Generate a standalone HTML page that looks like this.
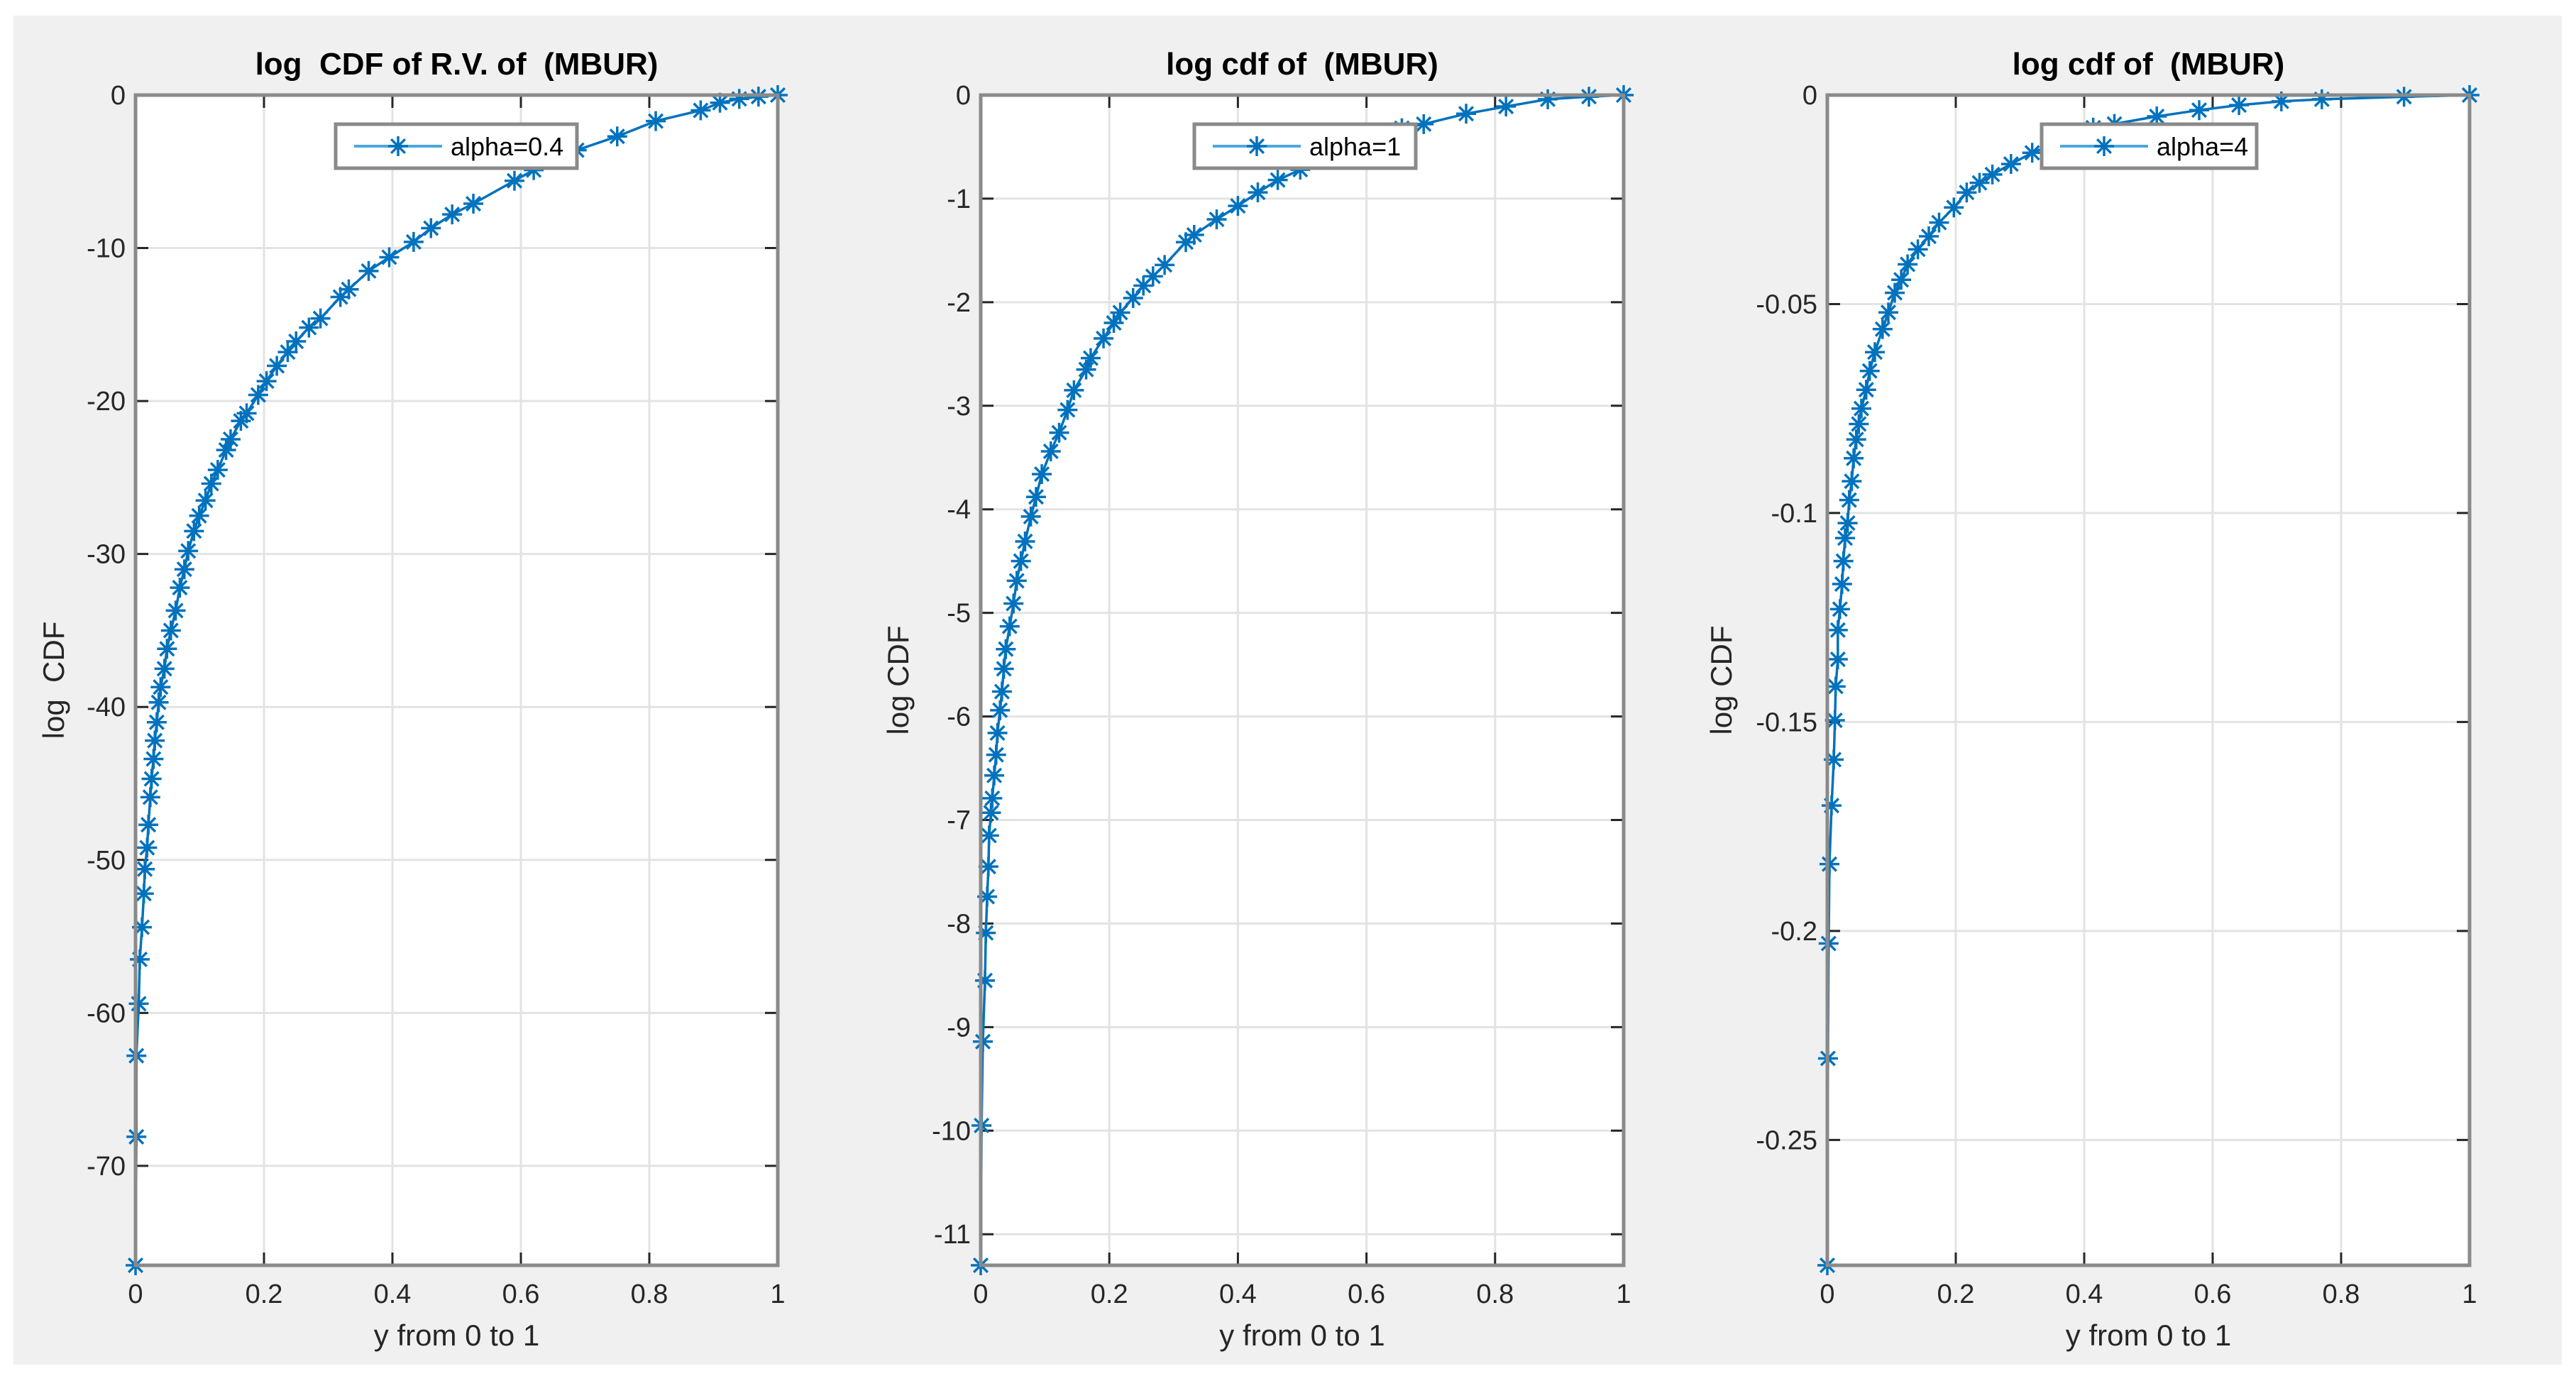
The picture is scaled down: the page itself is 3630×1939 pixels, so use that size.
<!DOCTYPE html>
<html><head><meta charset="utf-8"><title>log CDF of MBUR</title>
<style>
html,body{margin:0;padding:0;background:#fff;}
svg{display:block;font-family:"Liberation Sans",Arial,sans-serif;}
svg text{white-space:pre;}
</style></head>
<body>
<svg id="fig" width="3630" height="1939" viewBox="0 0 3630 1939" xmlns="http://www.w3.org/2000/svg">
<rect x="19" y="22" width="3591" height="1901" fill="#f0f0f0"/>
</svg>
<script>
// ---- data ----
const p1X=[1,0.97,0.94,0.91,0.88,0.81,0.75,0.687,0.62,0.59,0.526,0.493,0.46,0.433,0.395,0.363,0.332,0.319,0.288,0.27,0.25,0.237,0.22,0.204,0.191,0.173,0.164,0.148,0.141,0.128,0.118,0.109,0.099,0.091,0.082,0.076,0.069,0.0625,0.055,0.049,0.045,0.039,0.036,0.033,0.03,0.028,0.025,0.023,0.02,0.018,0.0145,0.013,0.01,0.0066,0.005,0.0013,0.0013,0];
const p1Y=[0,-0.1,-0.25,-0.5,-1.0,-1.7,-2.7,-3.6,-4.9,-5.6,-7.1,-7.8,-8.7,-9.6,-10.6,-11.5,-12.7,-13.2,-14.6,-15.2,-16.1,-16.8,-17.7,-18.7,-19.6,-20.8,-21.3,-22.5,-23.2,-24.5,-25.4,-26.5,-27.5,-28.5,-29.8,-31.0,-32.2,-33.7,-35.0,-36.2,-37.5,-38.7,-39.7,-41.0,-42.2,-43.4,-44.7,-45.9,-47.7,-49.2,-50.6,-52.2,-54.4,-56.5,-59.4,-62.8,-68.1,-76.5];
const p2X=[1,0.946,0.882,0.817,0.755,0.689,0.655,0.497,0.462,0.431,0.4,0.367,0.332,0.319,0.286,0.268,0.253,0.237,0.217,0.207,0.191,0.171,0.164,0.145,0.135,0.122,0.109,0.095,0.086,0.078,0.069,0.0625,0.056,0.051,0.045,0.039,0.036,0.033,0.03,0.026,0.024,0.021,0.018,0.016,0.013,0.012,0.01,0.008,0.0066,0.0033,0.0013,0];
const p2Y=[0,-0.015,-0.04,-0.11,-0.18,-0.28,-0.32,-0.72,-0.82,-0.94,-1.07,-1.2,-1.35,-1.42,-1.64,-1.75,-1.84,-1.96,-2.1,-2.2,-2.35,-2.54,-2.65,-2.85,-3.04,-3.26,-3.44,-3.66,-3.88,-4.07,-4.31,-4.5,-4.69,-4.91,-5.13,-5.35,-5.54,-5.76,-5.94,-6.16,-6.37,-6.57,-6.79,-6.93,-7.15,-7.45,-7.74,-8.09,-8.55,-9.14,-9.95,-11.3];
const p3X=[1,0.898,0.77,0.707,0.641,0.579,0.513,0.447,0.414,0.319,0.286,0.257,0.237,0.217,0.197,0.174,0.158,0.141,0.125,0.115,0.105,0.095,0.086,0.074,0.066,0.0605,0.053,0.049,0.045,0.041,0.038,0.034,0.0316,0.0276,0.025,0.023,0.0197,0.0164,0.0164,0.013,0.0118,0.01,0.0066,0.0033,0.002,0.001,0];
const p3Y=[0,-0.0004,-0.001,-0.0015,-0.0024,-0.0036,-0.0051,-0.0069,-0.0078,-0.0138,-0.0165,-0.019,-0.021,-0.0233,-0.0269,-0.0305,-0.0338,-0.0369,-0.0405,-0.0442,-0.0473,-0.052,-0.056,-0.0615,-0.066,-0.0705,-0.075,-0.0787,-0.0824,-0.0869,-0.0924,-0.0969,-0.1024,-0.106,-0.1115,-0.117,-0.123,-0.128,-0.135,-0.1415,-0.1496,-0.159,-0.170,-0.184,-0.203,-0.2305,-0.28];
const xTicks=[0,0.2,0.4,0.6,0.8,1];
const xTickLabels=["0","0.2","0.4","0.6","0.8","1"];
const p1YTicks=[0,-10,-20,-30,-40,-50,-60,-70];
const p2YTicks=[0,-1,-2,-3,-4,-5,-6,-7,-8,-9,-10,-11];
const p3YTicks=[0,-0.05,-0.1,-0.15,-0.2,-0.25];
const p3YTickLabels=["0","-0.05","-0.1","-0.15","-0.2","-0.25"];
const titles=["log  CDF of R.V. of  (MBUR)","log cdf of  (MBUR)","log cdf of  (MBUR)"];
const ylabels=["log  CDF","log CDF","log CDF"];
const legends=["alpha=0.4","alpha=1","alpha=4"];

const NS="http://www.w3.org/2000/svg";
const svg=document.getElementById('fig');
function mk(tag,attrs,parent){const e=document.createElementNS(NS,tag);for(const k in attrs)e.setAttribute(k,attrs[k]);(parent||svg).appendChild(e);return e;}
const C="#0072BD";
function star(g,x,y,s){
  const d=`M${x-s},${y}H${x+s}M${x},${y-s}V${y+s}M${x-s*0.7},${y-s*0.7}L${x+s*0.7},${y+s*0.7}M${x-s*0.7},${y+s*0.7}L${x+s*0.7},${y-s*0.7}`;
  const p=mk('path',{d:d,stroke:C,'stroke-width':3.5,fill:'none'},g);
  
  
}
const panels=[
 {L:191,R:1096,xs:p1X,ys:p1Y,ymin:-76.5,yt:p1YTicks,ytl:p1YTicks.map(String),ylx:76,leg:[473,813]},
 {L:1382,R:2288,xs:p2X,ys:p2Y,ymin:-11.3,yt:p2YTicks,ytl:p2YTicks.map(String),ylx:1266,leg:[1683,1995]},
 {L:2575,R:3480,xs:p3X,ys:p3Y,ymin:-0.28,yt:p3YTicks,ytl:p3YTickLabels,ylx:2426,leg:[2877,3180]}
];
const T=134,B=1783;
panels.forEach((P,i)=>{
  const g=mk('g',{});
  
  
  const sx=v=>P.L+(P.R-P.L)*v;
  const sy=v=>T+(B-T)*(v/P.ymin);
  const bg=mk('rect',{x:P.L,y:T,width:P.R-P.L,height:B-T,fill:'#fff'},g);
  
  
  xTicks.forEach((t,k)=>{
    const x=sx(t);
    const gl=mk('line',{x1:x,x2:x,y1:T,y2:B,stroke:'#e3e3e3','stroke-width':3},g);
    
    
    mk('line',{x1:x,x2:x,y1:B,y2:B-18,stroke:'#262626','stroke-width':3},g);
    mk('line',{x1:x,x2:x,y1:T,y2:T+18,stroke:'#262626','stroke-width':3},g);
    const tx=mk('text',{x:x,y:1836,'font-size':38,'text-anchor':'middle',fill:'#262626'},g);
    tx.textContent=xTickLabels[k];
    
    
  });
  P.yt.forEach((t,k)=>{
    const y=sy(t);
    const gl=mk('line',{x1:P.L,x2:P.R,y1:y,y2:y,stroke:'#e3e3e3','stroke-width':3},g);
    
    
    mk('line',{x1:P.L,x2:P.L+18,y1:y,y2:y,stroke:'#262626','stroke-width':3},g);
    mk('line',{x1:P.R,x2:P.R-18,y1:y,y2:y,stroke:'#262626','stroke-width':3},g);
    const tx=mk('text',{x:P.L-14,y:y+13,'font-size':38,'text-anchor':'end',fill:'#262626'},g);
    tx.textContent=P.ytl[k];
    
    
  });
  const pts=P.xs.map((v,k)=>sx(v).toFixed(1)+','+sy(P.ys[k]).toFixed(1)).join(' ');
  const ln=mk('polyline',{points:pts,fill:'none',stroke:C,'stroke-width':3.5},g);
  
  
  P.xs.forEach((v,k)=>star(g,sx(v),sy(P.ys[k]),14));
  const box=mk('rect',{x:P.L,y:T,width:P.R-P.L,height:B-T,fill:'none',stroke:'#8a8a8a','stroke-width':5},g);
  
  
  const tt=mk('text',{x:(P.L+P.R)/2,y:105,'font-size':44,'font-weight':'bold','text-anchor':'middle',fill:'#000'},g);
  tt.textContent=titles[i];
  
  
  const xl=mk('text',{x:(P.L+P.R)/2,y:1896,'font-size':42,'text-anchor':'middle',fill:'#262626'},g);
  xl.textContent='y from 0 to 1';
  
  
  const yl=mk('text',{x:P.ylx+14,y:(T+B)/2,'font-size':42,'text-anchor':'middle',fill:'#262626',transform:`rotate(-90 ${P.ylx+14} ${(T+B)/2})`},g);
  yl.textContent=ylabels[i];
  
  
  const lg=mk('g',{},g);
  
  
  const lx=P.leg[0],lw=P.leg[1]-P.leg[0];
  mk('rect',{x:lx,y:175,width:lw,height:62,fill:'#fff',stroke:'#8a8a8a','stroke-width':5},lg);
  const ll=mk('line',{x1:lx+26,x2:lx+150,y1:206,y2:206,stroke:'#4aa8dc','stroke-width':4},lg);
  
  
  star(lg,lx+88,206,14);
  const lt=mk('text',{x:lx+162,y:219,'font-size':36,fill:'#000'},lg);
  lt.textContent=legends[i];
  
  
});
</script>
</body></html>
